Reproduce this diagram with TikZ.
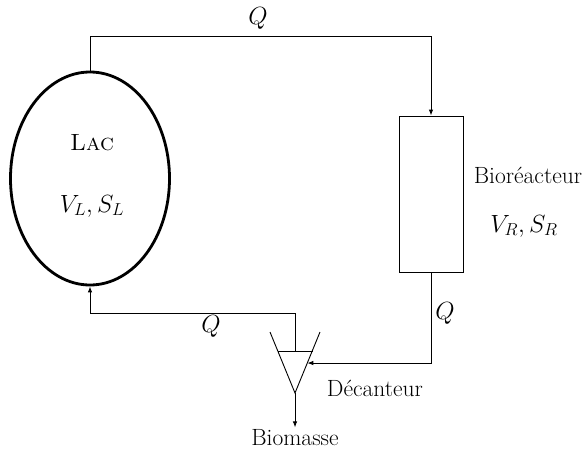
\documentclass[tikz,border=0pt]{standalone}
\usetikzlibrary{shapes.geometric,arrows.meta}
\begin{document}
\begin{tikzpicture}[x=1pt,y=-1pt, font=\fontsize{23.5}{28}\selectfont, line width=0.9pt,
  >={Latex[length=6pt,width=4.5pt]},
  lbl/.style={inner sep=2pt}]
\useasboundingbox (0,0) rectangle (585,450);
% Lac
\node[ellipse, draw, line width=2.8pt, minimum width=159pt, minimum height=213pt, inner sep=0pt] (lac) at (90,178.5) {};
\node[lbl] (lactxt) at (92,143) {\textsc{Lac}};
\node[lbl] (vl) at (92,206) {$V_L, S_L$};
% Bioreacteur
\node[draw, minimum width=64pt, minimum height=156pt, inner sep=0pt] (bio) at (431,194) {};
\node[lbl] (biotxt) at (528,175) {Bioréacteur};
\node[lbl] (vr) at (524,226) {$V_R, S_R$};
% Decanteur
\coordinate (tl) at (270,332);
\coordinate (apex) at (295,393);
\coordinate (tr) at (320,332);
\coordinate (bl) at (278,351);
\coordinate (br) at (313,351);
\coordinate (barmid) at (295,351);
\coordinate (sideR) at (307.3,363);
\draw (tl) -- (apex) -- (tr);
\draw (bl) -- (br);
\node[lbl] (dec) at (375,388) {Décanteur};
\node[lbl] (bm) at (295,438) {Biomasse};
% connectors
\coordinate (top) at (0,36);
\coordinate (mid) at (0,313);
\draw[->] (lac.north) |- (top -| bio.north) -- (bio.north);
\draw[->] (bio.south) |- (sideR);
\draw[->] (barmid) -- (barmid |- mid) -| (lac.south);
\draw[->] (apex) -- (bm.north);
% labels
\node[lbl] (q1) at (258,18) {$Q$};
\node[lbl] (q2) at (211,326) {$Q$};
\node[lbl] (q3) at (445,313) {$Q$};
\end{tikzpicture}
\end{document}
